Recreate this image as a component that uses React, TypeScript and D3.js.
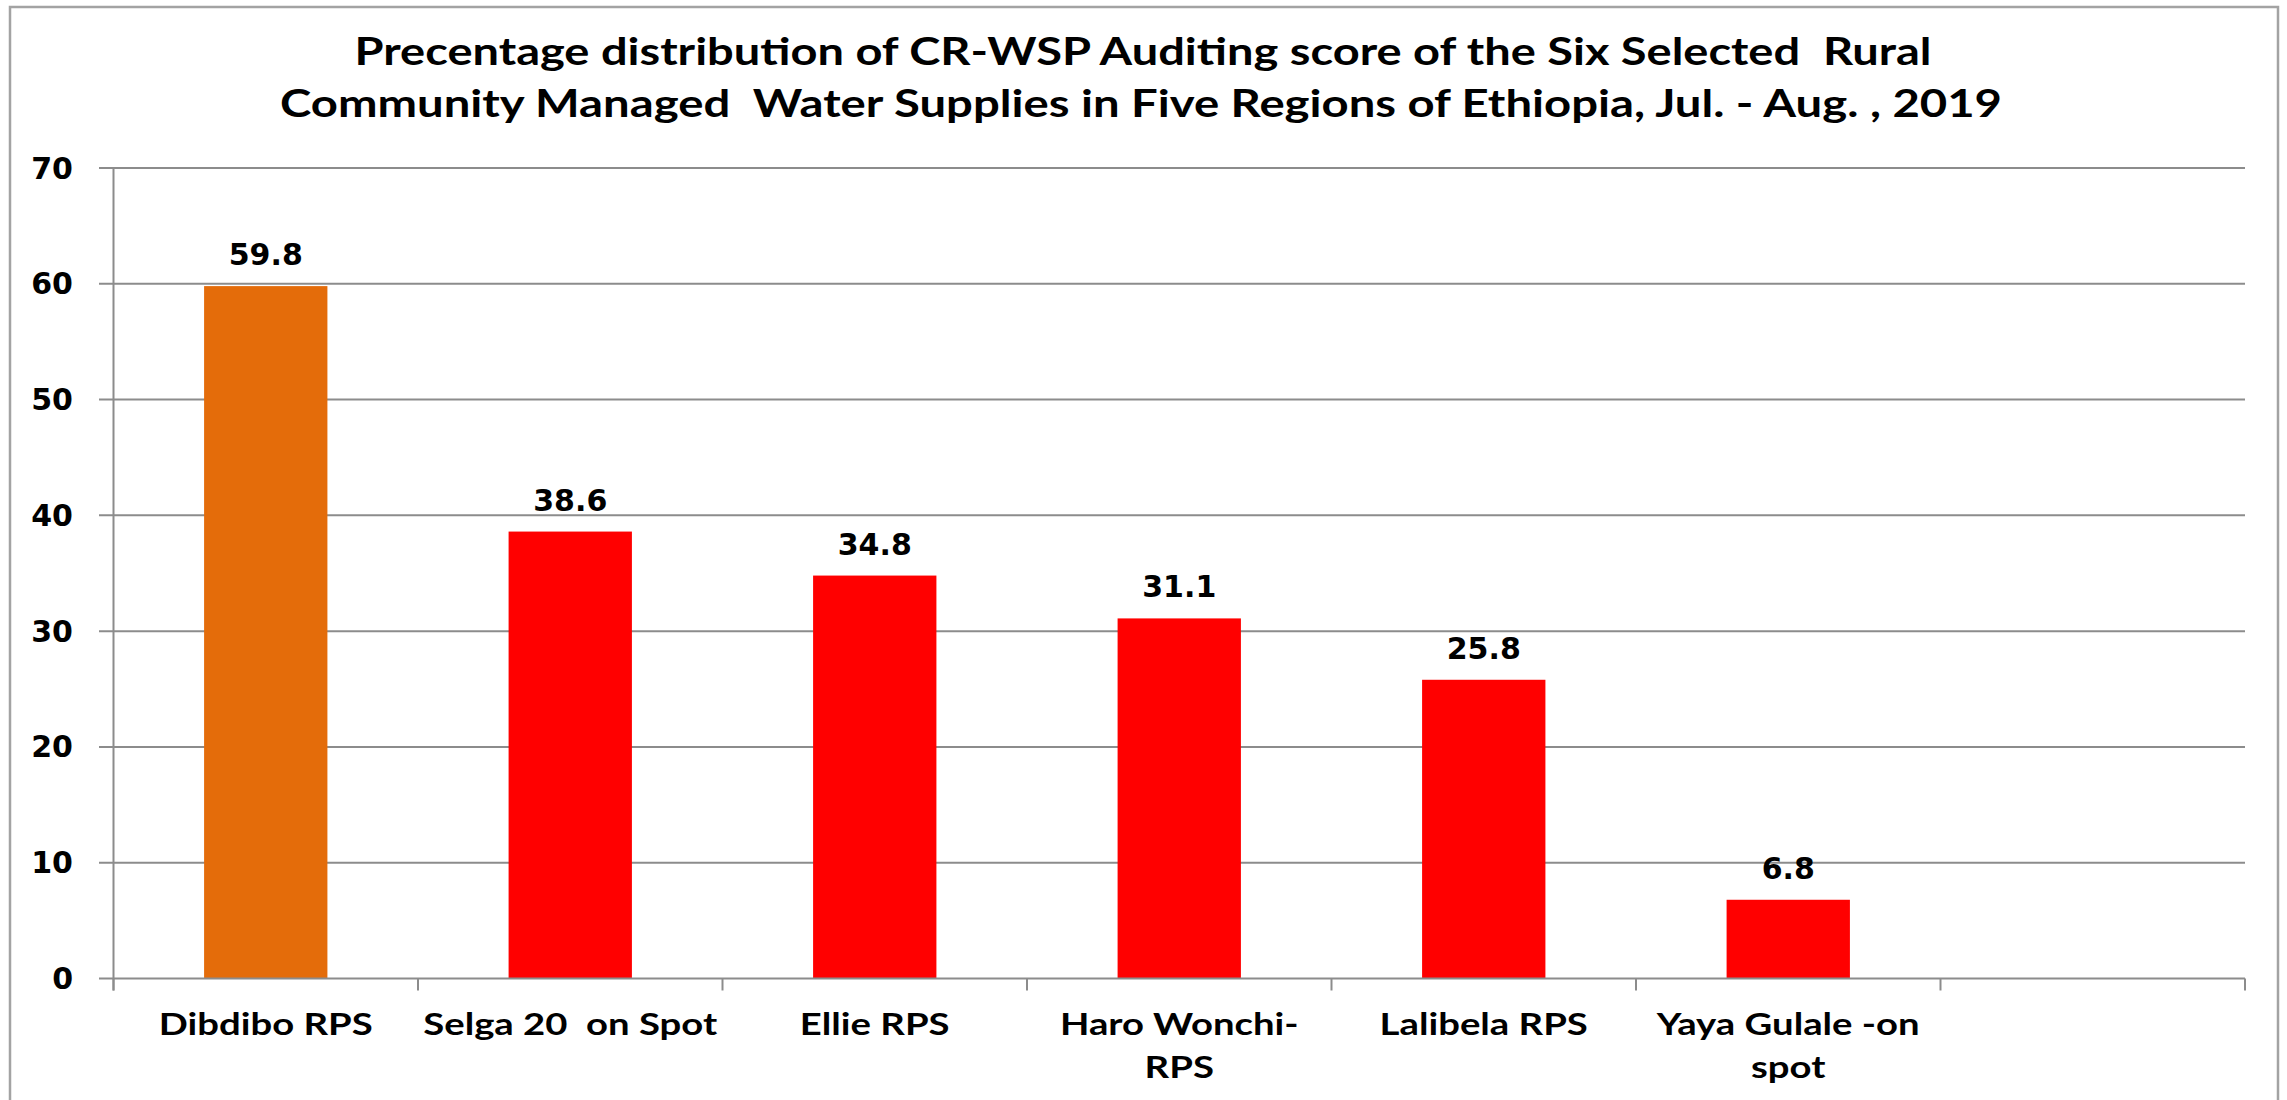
import React, { useEffect, useRef } from "react";
import * as d3 from "d3";

// ---- data ----
const categories = [
  "Dibdibo RPS",
  "Selga 20  on Spot",
  "Ellie RPS",
  "Haro Wonchi-\nRPS",
  "Lalibela RPS",
  "Yaya Gulale -on\nspot",
];
const values = [59.8, 38.6, 34.8, 31.1, 25.8, 6.8];
const barColors = ["#E46C0A", "#FF0000", "#FF0000", "#FF0000", "#FF0000", "#FF0000"];
const yTicks = [0, 10, 20, 30, 40, 50, 60, 70];
const titleLines = [
  "Precentage distribution of CR-WSP Auditing score of the Six Selected  Rural",
  "Community Managed  Water Supplies in Five Regions of Ethiopia, Jul. - Aug. , 2019",
];

// ---- layout ----
const W = 2287;
const H = 1100;
const plot = { left: 113.5, right: 2245, top: 168, bottom: 978.5 };
const titleBox = [
  { cx: 1143, width: 1577, baseline: 65 },
  { cx: 1141, width: 1722, baseline: 117 },
];
const gridColor = "#8c8c8c";
const valueFont = "'DejaVu Sans', Verdana, sans-serif";
const textFont = "Lato, 'Open Sans', sans-serif";

export default function App() {
  const ref = useRef<SVGSVGElement | null>(null);

  useEffect(() => {
    const svg = d3.select(ref.current);
    svg.selectAll("*").remove();

    // frame
    svg
      .append("rect")
      .attr("x", 10)
      .attr("y", 7)
      .attr("width", 2268)
      .attr("height", 1300)
      .attr("fill", "#ffffff")
      .attr("stroke", "#a3a3a3")
      .attr("stroke-width", 2.5);

    // title
    titleLines.forEach((t, i) => {
      svg
        .append("text")
        .attr("x", titleBox[i].cx)
        .attr("y", titleBox[i].baseline)
        .attr("text-anchor", "middle")
        .attr("font-family", textFont)
        .attr("font-weight", 700)
        .attr("font-size", 38)
        .attr("fill", "#000")
        .style("white-space", "pre")
        .attr("textLength", titleBox[i].width)
        .attr("lengthAdjust", "spacingAndGlyphs")
        .text(t);
    });

    const domain = [...categories, ""];
    const x = d3
      .scaleBand<string>()
      .domain(domain)
      .range([plot.left, plot.right])
      .padding(0);
    const y = d3.scaleLinear().domain([0, 70]).range([plot.bottom, plot.top]);

    // gridlines
    svg
      .append("g")
      .selectAll("line")
      .data(yTicks.filter((t) => t !== 0))
      .join("line")
      .attr("x1", plot.left - 14.5)
      .attr("x2", plot.right)
      .attr("y1", (d) => y(d))
      .attr("y2", (d) => y(d))
      .attr("stroke", gridColor)
      .attr("stroke-width", 2);

    // y tick labels
    svg
      .append("g")
      .selectAll("text")
      .data(yTicks)
      .join("text")
      .attr("x", 73)
      .attr("y", (d) => y(d) + 10.5)
      .attr("text-anchor", "end")
      .attr("font-family", valueFont)
      .attr("font-weight", 700)
      .attr("font-size", 30)
      .attr("fill", "#000")
      .text((d) => String(d));

    // bars
    const barW = x.bandwidth() * 0.405;
    svg
      .append("g")
      .selectAll("rect")
      .data(values)
      .join("rect")
      .attr("x", (_, i) => (x(categories[i]) as number) + x.bandwidth() / 2 - barW / 2)
      .attr("y", (d) => y(d))
      .attr("width", barW)
      .attr("height", (d) => y(0) - y(d))
      .attr("fill", (_, i) => barColors[i]);

    // value labels
    svg
      .append("g")
      .selectAll("text")
      .data(values)
      .join("text")
      .attr("x", (_, i) => (x(categories[i]) as number) + x.bandwidth() / 2)
      .attr("y", (d) => y(d) - 21)
      .attr("text-anchor", "middle")
      .attr("font-family", valueFont)
      .attr("font-weight", 700)
      .attr("font-size", 30)
      .attr("fill", "#000")
      .text((d) => d.toFixed(1));

    // axes
    const ax = svg.append("g").attr("stroke", gridColor).attr("stroke-width", 2);
    ax.append("line")
      .attr("x1", plot.left - 14.5)
      .attr("x2", plot.right)
      .attr("y1", y(0))
      .attr("y2", y(0));
    ax.append("line")
      .attr("x1", plot.left)
      .attr("x2", plot.left)
      .attr("y1", plot.top)
      .attr("y2", y(0) + 12);
    const bounds = [...domain.map((d) => x(d) as number), plot.right];
    ax.selectAll("line.tick")
      .data(bounds)
      .join("line")
      .attr("class", "tick")
      .attr("x1", (d) => d)
      .attr("x2", (d) => d)
      .attr("y1", y(0))
      .attr("y2", y(0) + 12);

    // category labels
    const lab = svg.append("g");
    const nodes: SVGTextElement[] = [];
    categories.forEach((c) => {
      c.split("\n").forEach((line, li) => {
        const t = lab
          .append("text")
          .attr("x", (x(c) as number) + x.bandwidth() / 2)
          .attr("y", 1035 + li * 43)
          .attr("text-anchor", "middle")
          .attr("font-family", textFont)
          .attr("font-weight", 700)
          .attr("font-size", 31)
          .attr("fill", "#000")
          .style("white-space", "pre")
          .text(line);
        nodes.push(t.node() as SVGTextElement);
      });
    });
    const base = nodes[0].getComputedTextLength();
    const k = base > 0 ? 214 / base : 1;
    nodes.forEach((n) => {
      const len = n.getComputedTextLength();
      d3.select(n).attr("textLength", len * k).attr("lengthAdjust", "spacingAndGlyphs");
    });
  }, []);

  return (
    <svg
      ref={ref}
      width={W}
      height={H}
      style={{ position: "absolute", left: 0, top: 0, display: "block" }}
    />
  );
}
